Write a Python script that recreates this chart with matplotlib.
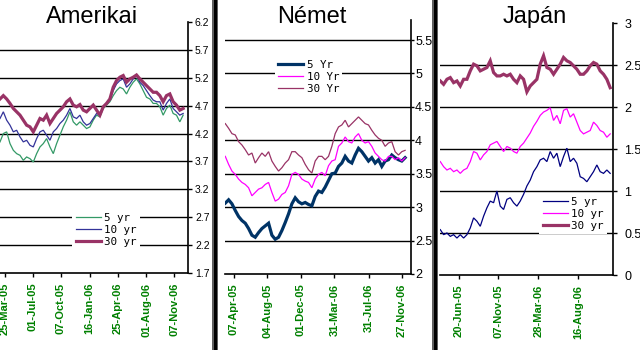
import matplotlib
matplotlib.use("Agg")
import matplotlib.pyplot as plt
import matplotlib.dates as mdates
from matplotlib.patches import Rectangle
import pandas as pd

# ---------------- data ----------------
# Amerikai (US) yields
us_start, us_end, us_n = "2005-03-08", "2006-12-09", 56
us_5 = [4.05, 4.20, 4.23, 4.02, 3.90, 3.84, 3.81, 3.72, 3.78, 3.75,
        3.69, 3.84, 3.96, 4.02, 4.11, 3.96, 3.84, 4.02, 4.17, 4.32,
        4.44, 4.59, 4.41, 4.35, 4.41, 4.35, 4.29, 4.32, 4.44, 4.53,
        4.50, 4.65, 4.71, 4.77, 4.88, 4.97, 5.03, 5.00, 4.91, 5.03,
        5.12, 5.18, 5.09, 4.97, 4.85, 4.82, 4.74, 4.74, 4.68, 4.53,
        4.65, 4.71, 4.56, 4.53, 4.41, 4.53]
us_10 = [4.47, 4.59, 4.44, 4.35, 4.23, 4.26, 4.14, 4.05, 4.08, 3.99,
         3.96, 4.11, 4.23, 4.26, 4.17, 4.08, 4.23, 4.29, 4.38, 4.44,
         4.53, 4.65, 4.50, 4.47, 4.53, 4.41, 4.35, 4.38, 4.47, 4.56,
         4.53, 4.68, 4.74, 4.80, 4.97, 5.09, 5.15, 5.18, 5.03, 5.09,
         5.18, 5.24, 5.12, 5.06, 4.97, 4.88, 4.80, 4.77, 4.77, 4.62,
         4.74, 4.82, 4.65, 4.59, 4.53, 4.56]
us_30 = [4.82, 4.88, 4.82, 4.74, 4.65, 4.59, 4.53, 4.44, 4.35, 4.32,
         4.23, 4.35, 4.47, 4.44, 4.53, 4.38, 4.47, 4.56, 4.62, 4.68,
         4.77, 4.82, 4.71, 4.68, 4.72, 4.62, 4.59, 4.65, 4.71, 4.62,
         4.53, 4.68, 4.74, 4.82, 5.03, 5.15, 5.21, 5.24, 5.12, 5.18,
         5.21, 5.25, 5.18, 5.12, 5.06, 5.00, 4.94, 4.94, 4.88, 4.77,
         4.88, 4.91, 4.77, 4.71, 4.62, 4.65]
us_labels = ["5 yr", "10 yr", "30 yr"]
us_yticks = [1.7, 2.2, 2.7, 3.2, 3.7, 4.2, 4.7, 5.2, 5.7, 6.2]
us_xticks = ["2005-03-25", "2005-07-01", "2005-10-07", "2006-01-16",
             "2006-04-25", "2006-08-01", "2006-11-07"]

# Német (German) yields
de_start, de_end, de_n = "2005-03-07", "2006-12-08", 55
de_5 = [3.06, 3.11, 3.05, 2.95, 2.86, 2.80, 2.76, 2.68, 2.58, 2.55,
        2.62, 2.68, 2.72, 2.76, 2.58, 2.52, 2.55, 2.65, 2.77, 2.90,
        3.05, 3.14, 3.08, 3.05, 3.07, 3.04, 3.02, 3.16, 3.24, 3.22,
        3.30, 3.40, 3.50, 3.51, 3.61, 3.66, 3.76, 3.69, 3.66, 3.78,
        3.88, 3.83, 3.76, 3.69, 3.74, 3.66, 3.71, 3.61, 3.69, 3.71,
        3.78, 3.74, 3.71, 3.69, 3.74]
de_10 = [3.76, 3.64, 3.54, 3.49, 3.42, 3.37, 3.34, 3.29, 3.17, 3.22,
         3.27, 3.29, 3.34, 3.37, 3.22, 3.09, 3.12, 3.19, 3.22, 3.32,
         3.49, 3.52, 3.49, 3.42, 3.39, 3.37, 3.29, 3.42, 3.49, 3.52,
         3.47, 3.62, 3.69, 3.71, 3.91, 3.96, 4.05, 3.98, 3.96, 4.05,
         4.10, 4.00, 3.96, 3.98, 3.91, 3.81, 3.76, 3.71, 3.69, 3.76,
         3.76, 3.71, 3.74, 3.69, 3.74]
de_30 = [4.25, 4.18, 4.10, 4.08, 3.98, 3.93, 3.86, 3.78, 3.81, 3.66,
         3.74, 3.81, 3.76, 3.83, 3.69, 3.61, 3.54, 3.59, 3.66, 3.71,
         3.83, 3.83, 3.78, 3.74, 3.64, 3.56, 3.51, 3.69, 3.76, 3.76,
         3.71, 3.76, 3.91, 4.10, 4.20, 4.23, 4.30, 4.20, 4.25, 4.30,
         4.35, 4.30, 4.25, 4.23, 4.15, 4.08, 4.03, 4.00, 3.91, 3.96,
         3.98, 3.83, 3.78, 3.83, 3.85]
de_labels = ["5 Yr", "10 Yr", "30 Yr"]
de_yticks = [2, 2.5, 3, 3.5, 4, 4.5, 5, 5.5]
de_xticks = ["2005-04-07", "2005-08-04", "2005-12-01", "2006-03-31",
             "2006-07-31", "2006-11-27"]

# Japán (Japanese) yields
jp_start, jp_end, jp_n = "2005-04-15", "2006-12-08", 52
jp_5 = [0.54, 0.48, 0.50, 0.46, 0.48, 0.44, 0.48, 0.44, 0.48, 0.56,
        0.68, 0.64, 0.58, 0.70, 0.80, 0.88, 0.86, 1.00, 0.82, 0.78,
        0.90, 0.92, 0.86, 0.82, 0.88, 0.96, 1.06, 1.13, 1.23, 1.29,
        1.37, 1.39, 1.35, 1.47, 1.39, 1.45, 1.29, 1.41, 1.51, 1.35,
        1.39, 1.33, 1.17, 1.15, 1.11, 1.17, 1.23, 1.31, 1.23, 1.21,
        1.25, 1.21]
jp_10 = [1.35, 1.29, 1.25, 1.27, 1.23, 1.25, 1.21, 1.25, 1.27, 1.35,
         1.47, 1.45, 1.37, 1.43, 1.47, 1.55, 1.57, 1.59, 1.53, 1.47,
         1.53, 1.51, 1.47, 1.45, 1.53, 1.57, 1.63, 1.69, 1.77, 1.83,
         1.90, 1.94, 1.96, 1.99, 1.84, 1.90, 1.80, 1.96, 1.98, 1.88,
         1.92, 1.82, 1.72, 1.68, 1.70, 1.72, 1.82, 1.78, 1.72, 1.70,
         1.64, 1.68]
jp_30 = [2.31, 2.27, 2.33, 2.35, 2.29, 2.31, 2.25, 2.33, 2.33, 2.43,
         2.51, 2.49, 2.43, 2.45, 2.47, 2.55, 2.41, 2.37, 2.37, 2.39,
         2.37, 2.39, 2.33, 2.29, 2.37, 2.33, 2.18, 2.25, 2.29, 2.33,
         2.51, 2.61, 2.47, 2.45, 2.39, 2.45, 2.51, 2.59, 2.55, 2.53,
         2.49, 2.45, 2.39, 2.39, 2.43, 2.49, 2.53, 2.51, 2.43, 2.39,
         2.33, 2.23]
jp_labels = ["5 yr", "10 yr", "30 yr"]
jp_yticks = [0, 0.5, 1, 1.5, 2, 2.5, 3]
jp_xticks = ["2005-06-20", "2005-11-07", "2006-03-28", "2006-08-16"]

titles = ["Amerikai", "Német", "Japán"]

# ---------------- figure ----------------
W, H = 640, 350
fig = plt.figure(figsize=(W / 100, H / 100), dpi=100)
fig.patch.set_facecolor("white")


def px_axes(x0, x1, y0, y1):
    return fig.add_axes([x0 / W, 1 - y1 / H, (x1 - x0) / W, (y1 - y0) / H])


def panel(ax, start, end, n, series, colors, widths, labels, xlim, ylim,
          yticks, xticks, ysize, ylen, ypad, leg_xy):
    dates = pd.date_range(start, end, periods=n)
    handles = []
    for vals, c, lw in zip(series, colors, widths):
        h, = ax.plot(dates, vals, color=c, lw=lw, zorder=3,
                     solid_joinstyle="miter")
        handles.append(h)
    ax.set_xlim(pd.Timestamp(xlim[0]), pd.Timestamp(xlim[1]))
    ax.set_ylim(*ylim)
    for v in yticks:
        if ylim[0] < v < ylim[1]:
            ax.axhline(v, color="black", lw=1.0, zorder=1)
    ax.set_yticks(yticks)
    ax.set_yticklabels(["%g" % v for v in yticks])
    ax.yaxis.tick_right()
    ax.tick_params(axis="y", direction="out", length=ylen, width=1,
                   pad=ypad, labelsize=ysize, colors="black")
    for lab in ax.get_yticklabels():
        lab.set_family("Liberation Sans")
    ax.set_xticks(pd.to_datetime(xticks))
    ax.xaxis.set_major_formatter(mdates.DateFormatter("%d-%b-%y"))
    ax.tick_params(axis="x", direction="out", length=3, width=1, pad=4,
                   labelsize=8, labelcolor="#008000", labelrotation=90)
    for lab in ax.get_xticklabels():
        lab.set_family("Liberation Sans")
        lab.set_fontweight("bold")
    for s in ("top", "left"):
        ax.spines[s].set_visible(False)
    for s in ("right", "bottom"):
        ax.spines[s].set_linewidth(1.2)
        ax.spines[s].set_color("black")
    ax.set_facecolor("none")
    leg = ax.legend(handles, labels, loc="center", bbox_to_anchor=leg_xy,
                    frameon=True, facecolor="white", edgecolor="none",
                    framealpha=1, fancybox=False,
                    prop={"family": "DejaVu Sans Mono", "size": 7.8},
                    handlelength=2.3, handletextpad=0.35, labelspacing=0.2,
                    borderpad=0.3, borderaxespad=0)
    leg.set_zorder(5)


ax1 = px_axes(0, 188, 22, 273)
panel(ax1, us_start, us_end, us_n, [us_5, us_10, us_30],
      ["#339966", "#333399", "#993366"], [0.9, 0.9, 2.3], us_labels,
      ("2005-03-08", "2006-12-26"), (1.7, 6.2), us_yticks, us_xticks,
      7.5, 3, 2, (0.565, 0.171))

ax2 = px_axes(225, 411, 20, 274)
panel(ax2, de_start, de_end, de_n, [de_5, de_10, de_30],
      ["#003366", "#FF00FF", "#993366"], [2.3, 0.9, 0.9], de_labels,
      ("2005-03-06", "2006-12-29"), (2, 5.8), de_yticks, de_xticks,
      9, 2, 1, (0.449, 0.776))

ax3 = px_axes(440, 613, 23, 275)
panel(ax3, jp_start, jp_end, jp_n, [jp_5, jp_10, jp_30],
      ["#000080", "#FF00FF", "#993366"], [0.9, 0.9, 2.3], jp_labels,
      ("2005-04-14", "2006-12-18"), (0, 3), jp_yticks, jp_xticks,
      9, 3, 5, (0.77, 0.242))

# titles
for t, cx in zip(titles, [92, 312, 535]):
    fig.text(cx / W, 1 - 23 / H, t, ha="center", va="baseline",
             fontsize=17, family="Liberation Sans", color="black")

# panel separators
for x0 in (212, 432):
    fig.add_artist(Rectangle((x0 / W, 0), 6 / W, 1, transform=fig.transFigure,
                             facecolor="#606060", edgecolor="none", zorder=10))
    fig.add_artist(Rectangle(((x0 + 1.5) / W, 0), 3 / W, 1,
                             transform=fig.transFigure, facecolor="black",
                             edgecolor="none", zorder=11))

fig.savefig("out.png", dpi=100, facecolor="white")
